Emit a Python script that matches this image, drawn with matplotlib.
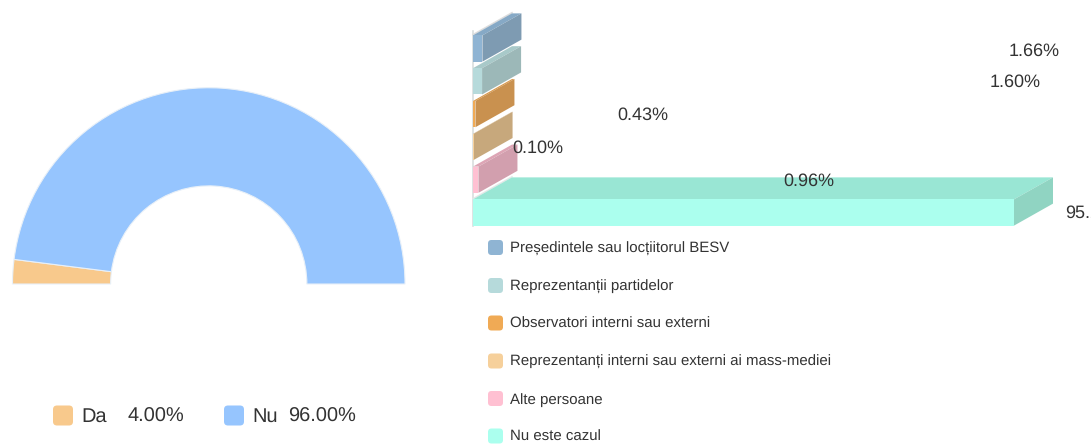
# Semi-donut and pseudo 3D bar chart
import matplotlib
matplotlib.use('Agg')
import matplotlib.pyplot as plt
from matplotlib.patches import FancyBboxPatch, Polygon

plt.rcParams['font.family'] = ['Liberation Sans', 'DejaVu Sans']
plt.rcParams['text.hinting'] = 'no_hinting'
plt.rcParams['text.hinting_factor'] = 1

W, H = 1091, 445
TEXT = '#333333'

# left chart
pie_labels = ['Da', 'Nu']
pie_values = [4.00, 96.00]
pie_colors = ['#F8C98C', '#96C5FE']

# right chart
bar_labels = ['Președintele sau locțiitorul BESV', 'Reprezentanții partidelor',
              'Observatori interni sau externi', 'Reprezentanți interni sau externi ai mass-mediei',
              'Alte persoane', 'Nu este cazul']
bar_values = [1.66, 1.60, 0.43, 0.10, 0.96, 95.25]
bar_texts = ['1.66%', '1.60%', '0.43%', '0.10%', '0.96%', '95.25%']
front_colors = ['#8FB4D3', '#B6DADB', '#F0AA55', '#F6D09B', '#FFC0D2', '#ABFFEE']
top_colors = ['#86A9C6', '#A8C9C9', '#D99A4E', '#D8B483', '#DDA5B5', '#99E6D4']
side_colors = ['#7E9BB2', '#9CB8B8', '#C9914F', '#C7A87C', '#D29FAE', '#90D4C2']


def px_axes(x0, y0, x1, y1):
    # axes placed by pixel box, y measured from the top of the image
    return fig.add_axes([x0 / W, 1 - y1 / H, (x1 - x0) / W, (y1 - y0) / H])


fig = plt.figure(figsize=(W / 100, H / 100), dpi=100, facecolor='white')

# page layer in pixel coordinates, used for legends
page = fig.add_axes([0, 0, 1, 1])
page.set_xlim(0, W)
page.set_ylim(H, 0)
page.axis('off')

# === SEMI DONUT ===
pie_ax = px_axes(12.5, 87.75, 405, 480.25)
wedges, _ = pie_ax.pie(pie_values + [sum(pie_values)], colors=pie_colors + ['none'],
                       startangle=180, counterclock=False, radius=1,
                       wedgeprops=dict(width=0.5, edgecolor='#E8F0F8', linewidth=0.8))
wedges[2].set_edgecolor('none')
pie_ax.set_xlim(-1, 1)
pie_ax.set_ylim(-1, 1)
pie_ax.patch.set_alpha(0)
for w in wedges:
    w.set_clip_on(False)

# left legend
swatch_x = [53, 224]
name_x = [81, 252]
value_x = [128, 288]
for i in range(len(pie_labels)):
    page.add_patch(FancyBboxPatch((swatch_x[i] + 4, 409.5), 12, 12, boxstyle='round,pad=4',
                                  facecolor=pie_colors[i], edgecolor='none'))
    page.text(name_x[i], 415, pie_labels[i], fontsize=14.5, color=TEXT, ha='left', va='center_baseline')
    page.text(value_x[i], 415, '%.2f%%' % pie_values[i], fontsize=14.5, color=TEXT, ha='left', va='center_baseline')

# === 3D BARS ===
PX_PER_UNIT = 541 / 95.25
ROW = 32.8
DX = 39 / PX_PER_UNIT
DY = 22 / ROW
bar_ax = px_axes(473, 0, W, 240)
bar_ax.set_xlim(0, (W - 473) / PX_PER_UNIT)
bar_ax.set_ylim((240 - 48.5) / ROW, -48.5 / ROW)
bar_ax.axis('off')
bar_ax.patch.set_alpha(0)

# wall and floor lines
bar_ax.plot([0, 0], [-0.5 - 0.02, 5.42], color='#D9DEDE', lw=1.2, clip_on=False)
bar_ax.plot([0, DX], [-0.42, -0.42 - DY], color='#DDDDDD', lw=1.2, clip_on=False)
bar_ax.plot([0, DX], [4.58, 4.58 - DY], color='#E4E8E8', lw=1, clip_on=False)

ypos = list(range(len(bar_values)))
bar_h = 0.8
bars = bar_ax.barh(ypos, bar_values, height=bar_h, color=front_colors, edgecolor='none', zorder=3)
for i, v in enumerate(bar_values):
    y_top = i - bar_h / 2
    y_bot = i + bar_h / 2
    bar_ax.add_patch(Polygon([(0, y_top), (v, y_top), (v + DX, y_top - DY), (DX, y_top - DY)],
                             facecolor=top_colors[i], edgecolor='none', zorder=2))
    bar_ax.add_patch(Polygon([(v, y_top), (v + DX, y_top - DY), (v + DX, y_bot - DY), (v, y_bot)],
                             facecolor=side_colors[i], edgecolor='none', zorder=2))

# value labels sit where the source left them, not at the bar ends
label_x = [1034, 1015, 643, 538, 809, 1065]
label_y = [49, 80, 113, 146, 179, 211]
for i, t in enumerate(bar_texts):
    ha = 'left' if i == 5 else 'center'
    page.text(label_x[i], label_y[i], t, fontsize=12.7, color=TEXT, ha=ha, va='center_baseline', zorder=5)
page.set_zorder(5)
page.patch.set_alpha(0)

# right legend
legend_y = [247.5, 285.5, 323, 361, 398.5, 436]
for i, name in enumerate(bar_labels):
    page.add_patch(FancyBboxPatch((491.5, legend_y[i] - 4), 8, 8, boxstyle='round,pad=3.5',
                                  facecolor=front_colors[i], edgecolor='none'))
    page.text(510, legend_y[i] - 0.5, name, fontsize=10.6, color=TEXT, ha='left', va='center_baseline')

fig.savefig('out.png', dpi=100)
